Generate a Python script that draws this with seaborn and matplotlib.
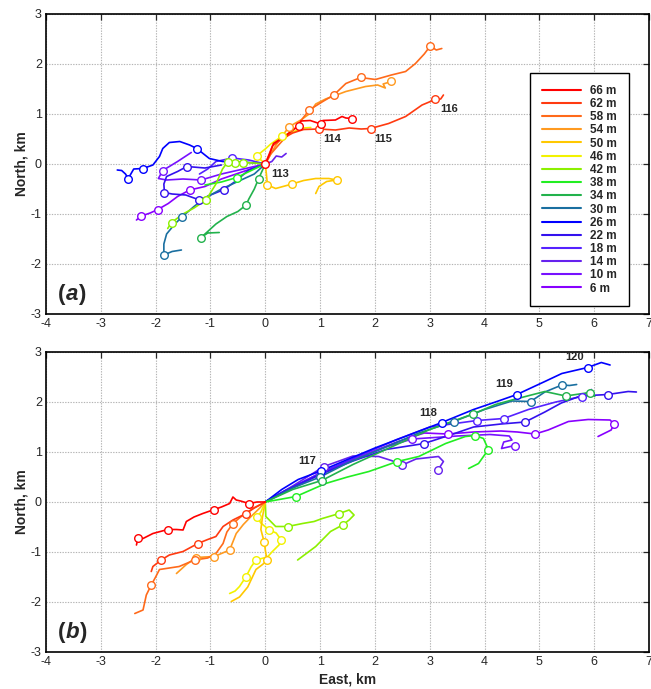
import matplotlib
matplotlib.use("Agg")
import matplotlib.pyplot as plt
from matplotlib.lines import Line2D
from matplotlib.offsetbox import TextArea, HPacker, AnchoredOffsetbox
import seaborn as sns
import pandas as pd

sns.set_style("white")
plt.rcParams["font.family"] = ["Liberation Sans", "DejaVu Sans"]
plt.rcParams["axes.unicode_minus"] = False

# Drifter depths (m) and their colours
depths = [66, 62, 58, 54, 50, 46, 42, 38, 34, 30, 26, 22, 18, 14, 10, 6]
depth_colors = ["#ff0000", "#ff3a10", "#ff6a1a", "#ff9a20", "#ffc800", "#f2f200",
                "#8cf000", "#22ee22", "#22b24c", "#1a6fa0", "#0000ff", "#3311ee",
                "#5522ff", "#6622ee", "#7711ff", "#8800ff"]

# Progressive vector tracks: (east km, north km, daily mark flag)
# Panel (a): days 113-116
a66 = [(0, 0, 1), (0.08, 0.2, 0), (0.15, 0.41, 0), (0.35, 0.55, 0), (0.5, 0.68, 0), (0.62, 0.77, 1),
       (0.65, 0.86, 0), (0.82, 0.87, 0), (1.01, 0.80, 1), (1.05, 0.87, 0), (1.28, 0.88, 0),
       (1.4, 0.95, 0), (1.47, 0.92, 0), (1.58, 0.91, 1)]
a62 = [(0, 0, 0), (0.13, 0.36, 0), (0.3, 0.5, 0), (0.5, 0.62, 0), (0.7, 0.69, 0), (0.98, 0.70, 1),
       (1.28, 0.68, 0), (1.53, 0.72, 0), (1.75, 0.70, 0), (1.92, 0.71, 1), (2.25, 0.81, 0),
       (2.56, 0.95, 0), (2.86, 1.18, 0), (3.1, 1.29, 1), (3.2, 1.30, 0), (3.25, 1.38, 0)]
a58 = [(0, 0, 0), (0.1, 0.2, 0), (0.3, 0.45, 0), (0.55, 0.72, 0), (0.8, 1.08, 1), (1.05, 1.25, 0),
       (1.25, 1.38, 1), (1.47, 1.61, 0), (1.74, 1.73, 1), (2.01, 1.69, 0), (2.3, 1.78, 0),
       (2.56, 1.85, 0), (2.74, 2.01, 0), (2.9, 2.2, 0), (3.01, 2.36, 1), (3.12, 2.28, 0), (3.22, 2.31, 0)]
a54 = [(0, 0, 0), (0.15, 0.3, 0), (0.3, 0.55, 0), (0.44, 0.75, 1), (0.65, 0.88, 0), (0.8, 1.0, 0),
       (0.92, 1.2, 0), (1.1, 1.3, 0), (1.47, 1.45, 0), (1.83, 1.55, 0), (2.05, 1.58, 0),
       (2.19, 1.52, 0), (2.15, 1.6, 0), (2.3, 1.65, 1)]
a50 = [(0, 0, 0), (0.02, -0.2, 0), (0.04, -0.42, 1), (0.19, -0.49, 0), (0.49, -0.40, 1), (0.7, -0.33, 0),
       (0.92, -0.29, 0), (1.16, -0.29, 0), (1.3, -0.32, 1), (1.12, -0.35, 0), (0.98, -0.45, 0),
       (0.92, -0.59, 0)]
a46 = [(0, 0, 0), (-0.1, 0.1, 0), (-0.16, 0.16, 1), (0.0, 0.3, 0), (0.1, 0.4, 0), (0.31, 0.56, 1),
       (0.5, 0.64, 0), (0.7, 0.72, 0), (0.83, 0.73, 0)]
a42 = [(0, 0, 0), (-0.2, 0.02, 0), (-0.41, 0.03, 1), (-0.56, 0.03, 1), (-0.68, 0.05, 1), (-0.78, -0.1, 0),
       (-0.9, -0.4, 0), (-1.08, -0.72, 1), (-1.3, -0.88, 0), (-1.5, -1.0, 0), (-1.71, -1.17, 1),
       (-1.78, -1.29, 0)]
a38 = [(0, 0, 0), (-0.2, -0.1, 0), (-0.52, -0.27, 1), (-0.8, -0.36, 0), (-1.1, -0.42, 0)]
a34 = [(0, 0, 0), (-0.12, -0.29, 1), (-0.2, -0.5, 0), (-0.3, -0.7, 0), (-0.35, -0.82, 1), (-0.5, -0.95, 0),
       (-0.7, -1.05, 0), (-0.9, -1.2, 0), (-1.05, -1.35, 0), (-1.17, -1.47, 1), (-1.05, -1.38, 0),
       (-0.84, -1.37, 0)]
a30 = [(0, 0, 0), (-0.2, -0.2, 0), (-0.5, -0.35, 0), (-0.8, -0.5, 0), (-1.1, -0.68, 0), (-1.3, -0.85, 0),
       (-1.51, -1.05, 1), (-1.65, -1.2, 0), (-1.8, -1.4, 0), (-1.85, -1.6, 0), (-1.85, -1.82, 1),
       (-1.7, -1.75, 0), (-1.53, -1.72, 0)]
a26 = [(0, 0, 0), (-0.3, 0.03, 0), (-0.78, 0.05, 0), (-1.02, 0.11, 0), (-1.25, 0.31, 1), (-1.38, 0.38, 0),
       (-1.56, 0.45, 0), (-1.75, 0.43, 0), (-1.87, 0.31, 0), (-1.93, 0.15, 0), (-2.05, -0.02, 0),
       (-2.23, -0.09, 1), (-2.4, -0.1, 0), (-2.5, -0.29, 1), (-2.55, -0.2, 0), (-2.62, -0.13, 0),
       (-2.7, -0.12, 0)]
a22 = [(0, 0, 0), (-0.3, -0.12, 0), (-0.55, -0.35, 0), (-0.75, -0.51, 1), (-1.0, -0.62, 0), (-1.2, -0.72, 1),
       (-1.45, -0.62, 0), (-1.7, -0.6, 0), (-1.84, -0.57, 1), (-1.85, -0.4, 0), (-1.8, -0.25, 0),
       (-1.6, -0.15, 0), (-1.43, -0.05, 1), (-1.1, -0.08, 0), (-0.8, -0.02, 0)]
a18 = [(0, 0, 0), (-0.3, 0.08, 0), (-0.6, 0.12, 1), (-0.9, 0.05, 0), (-1.05, -0.1, 0), (-1.2, -0.2, 0)]
a14 = [(0, 0, 0), (0.12, 0.05, 0), (0.2, 0.16, 0), (0.3, 0.14, 0), (0.38, 0.21, 0)]
a10 = [(0, 0, 0), (-0.4, -0.1, 0), (-0.8, -0.2, 0), (-1.17, -0.32, 1), (-1.5, -0.3, 0), (-1.8, -0.32, 0),
       (-1.95, -0.29, 0), (-1.87, -0.13, 1), (-1.6, 0.05, 0), (-1.35, 0.23, 0)]
a6 = [(0, 0, 0), (-0.4, -0.15, 0), (-0.8, -0.3, 0), (-1.1, -0.45, 0), (-1.38, -0.52, 1), (-1.6, -0.65, 0),
      (-1.77, -0.79, 0), (-1.96, -0.91, 1), (-2.1, -0.98, 0), (-2.26, -1.04, 1), (-2.35, -1.12, 0)]

# Panel (b): days 117-120
b66 = [(0, 0, 0), (-0.15, 0.0, 0), (-0.30, -0.03, 1), (-0.45, 0.02, 0), (-0.53, 0.04, 0), (-0.59, 0.1, 0),
       (-0.65, -0.03, 0), (-0.8, -0.1, 0), (-0.93, -0.15, 1), (-1.14, -0.23, 0), (-1.3, -0.3, 0),
       (-1.44, -0.39, 0), (-1.5, -0.56, 0), (-1.62, -0.55, 0), (-1.78, -0.55, 1), (-2.05, -0.63, 0),
       (-2.23, -0.73, 0), (-2.32, -0.71, 1), (-2.35, -0.86, 0)]
b62 = [(0, 0, 0), (-0.2, -0.12, 0), (-0.35, -0.23, 1), (-0.59, -0.36, 0), (-0.77, -0.49, 0), (-0.9, -0.69, 0),
       (-1.05, -0.75, 0), (-1.23, -0.83, 1), (-1.5, -0.99, 0), (-1.75, -1.06, 0), (-1.9, -1.16, 1),
       (-2.05, -1.29, 0), (-2.08, -1.39, 0)]
b58 = [(0, 0, 0), (-0.23, -0.13, 0), (-0.45, -0.3, 0), (-0.59, -0.43, 1), (-0.7, -0.6, 0), (-0.77, -0.83, 0),
       (-0.9, -1.03, 0), (-1.05, -1.12, 0), (-1.29, -1.16, 1), (-1.57, -1.29, 0), (-1.93, -1.35, 0),
       (-2.0, -1.5, 0), (-2.08, -1.66, 1), (-2.17, -1.86, 0), (-2.23, -2.16, 0), (-2.38, -2.23, 0)]
b54 = [(0, 0, 0), (-0.1, -0.12, 0), (-0.26, -0.29, 0), (-0.4, -0.45, 0), (-0.53, -0.63, 0), (-0.65, -0.96, 1),
       (-0.93, -1.09, 1), (-1.1, -1.1, 0), (-1.26, -1.11, 1), (-1.44, -1.25, 0), (-1.62, -1.43, 0)]
b50 = [(0, 0, 0), (-0.05, -0.29, 0), (-0.08, -0.55, 0), (-0.02, -0.8, 1), (0.01, -1.03, 0), (0.04, -1.16, 1),
       (-0.05, -1.25, 0), (-0.17, -1.35, 0), (-0.23, -1.49, 0), (-0.32, -1.7, 0), (-0.47, -1.9, 0),
       (-0.62, -1.99, 0)]
b46 = [(0, 0, 0), (-0.08, -0.2, 0), (-0.15, -0.3, 1), (-0.08, -0.42, 0), (0.07, -0.56, 1), (0.2, -0.62, 0),
       (0.29, -0.76, 1), (0.25, -0.86, 0), (0.13, -0.99, 0), (0.04, -1.1, 0), (-0.17, -1.16, 1),
       (-0.26, -1.3, 0), (-0.35, -1.49, 1), (-0.47, -1.69, 0), (-0.55, -1.78, 0), (-0.65, -1.83, 0)]
b42 = [(0, 0, 0), (0.01, -0.29, 0), (0.19, -0.49, 0), (0.41, -0.49, 1), (0.68, -0.43, 0), (0.89, -0.39, 0),
       (1.04, -0.33, 0), (1.35, -0.23, 1), (1.53, -0.16, 0), (1.62, -0.26, 0), (1.53, -0.36, 0),
       (1.41, -0.46, 1), (1.19, -0.59, 0), (0.92, -0.89, 0), (0.59, -1.16, 0)]
b38 = [(0, 0, 0), (0.56, 0.11, 1), (1.10, 0.37, 0), (1.5, 0.5, 0), (1.89, 0.61, 0), (2.41, 0.81, 1),
       (2.8, 0.91, 0), (3.29, 1.17, 0), (3.65, 1.31, 0), (3.83, 1.33, 1), (3.98, 1.27, 0), (4.07, 1.05, 1),
       (3.89, 0.77, 0), (3.71, 0.67, 0)]
b34 = [(0, 0, 0), (0.5, 0.25, 0), (1.03, 0.43, 1), (1.6, 0.75, 0), (2.3, 1.1, 0), (3.0, 1.45, 0),
       (3.79, 1.76, 1), (4.2, 1.95, 0), (4.5, 2.04, 0), (5.1, 2.21, 0), (5.48, 2.12, 1), (5.92, 2.19, 1),
       (6.01, 2.11, 0)]
b30 = [(0, 0, 0), (0.5, 0.28, 0), (1.0, 0.5, 1), (1.5, 0.78, 0), (2.2, 1.1, 0), (2.8, 1.38, 0),
       (3.44, 1.61, 1), (4.0, 1.85, 0), (4.5, 2.02, 0), (4.84, 2.01, 1), (5.1, 2.2, 0), (5.41, 2.34, 1),
       (5.55, 2.33, 0), (5.68, 2.35, 0)]
b26 = [(0, 0, 0), (0.3, 0.25, 0), (0.6, 0.45, 0), (1.01, 0.62, 1), (1.5, 0.85, 0), (2.0, 1.08, 0),
       (2.6, 1.33, 0), (3.22, 1.59, 1), (3.8, 1.85, 0), (4.2, 2.0, 0), (4.59, 2.15, 1), (5.1, 2.41, 0),
       (5.41, 2.57, 0), (5.88, 2.69, 1), (6.13, 2.79, 0), (6.29, 2.74, 0)]
b22 = [(0, 0, 0), (0.35, 0.22, 0), (1.0, 0.55, 0), (1.6, 0.82, 0), (2.2, 1.05, 0), (2.9, 1.17, 1),
       (3.4, 1.35, 0), (3.8, 1.5, 0), (4.3, 1.56, 0), (4.74, 1.6, 1), (5.1, 1.8, 0), (5.4, 1.98, 0),
       (5.75, 2.12, 0), (6.25, 2.15, 1), (6.62, 2.21, 0), (6.77, 2.2, 0)]
b18 = [(0, 0, 0), (0.5, 0.3, 0), (1.05, 0.6, 0), (1.7, 0.92, 0), (2.4, 1.25, 0), (3.0, 1.5, 0),
       (3.86, 1.63, 1), (4.35, 1.67, 1), (4.8, 1.85, 0), (5.3, 2.0, 0), (5.77, 2.11, 1), (5.95, 2.25, 0)]
b14 = [(0, 0, 0), (0.5, 0.32, 0), (1.07, 0.71, 1), (1.6, 0.92, 0), (2.07, 0.91, 0), (2.3, 0.83, 0),
       (2.5, 0.74, 1), (2.75, 0.86, 0), (3.16, 0.91, 0), (3.25, 0.81, 0), (3.15, 0.64, 1)]
b10 = [(0, 0, 0), (0.5, 0.28, 0), (1.0, 0.55, 1), (1.6, 0.85, 0), (2.2, 1.1, 0), (2.68, 1.26, 1),
       (3.5, 1.32, 0), (4.1, 1.35, 0), (4.45, 1.32, 0), (4.5, 1.24, 0), (4.35, 1.2, 0), (4.31, 1.07, 0),
       (4.55, 1.13, 1)]
b6 = [(0, 0, 0), (0.5, 0.3, 0), (1.0, 0.58, 0), (1.7, 0.9, 0), (2.4, 1.2, 0), (2.9, 1.38, 0),
      (3.33, 1.36, 1), (3.8, 1.4, 0), (4.3, 1.42, 0), (4.6, 1.4, 0), (4.92, 1.36, 1), (5.16, 1.44, 0),
      (5.53, 1.61, 0), (5.89, 1.65, 0), (6.29, 1.64, 0), (6.36, 1.56, 1), (6.31, 1.44, 0), (6.07, 1.31, 0)]

tracks_a = [a66, a62, a58, a54, a50, a46, a42, a38, a34, a30, a26, a22, a18, a14, a10, a6]
tracks_b = [b66, b62, b58, b54, b50, b46, b42, b38, b34, b30, b26, b22, b18, b14, b10, b6]

# Day labels and where they sit
days_a = ["113", "114", "115", "116"]
days_a_pos = [(0.27, -0.2), (1.22, 0.49), (2.16, 0.51), (3.35, 1.09)]
days_b = ["117", "118", "119", "120"]
days_b_pos = [(0.77, 0.81), (2.98, 1.79), (4.35, 2.36), (5.64, 2.89)]

W, H = 651, 689
fig = plt.figure(figsize=(W / 100, H / 100), dpi=100)
ax_a = fig.add_axes([46 / W, 1 - 314 / H, 603 / W, 300 / H])
ax_b = fig.add_axes([46 / W, 1 - 652 / H, 603 / W, 300 / H])


def draw_panel(ax, tracks, day_labels, day_pos, tag):
    # deepest first so the shallow (blue/violet) tracks sit underneath the red ones
    for i in range(len(tracks) - 1, -1, -1):
        df = pd.DataFrame(tracks[i], columns=["east", "north", "mark"])
        col = depth_colors[i]
        sns.lineplot(data=df, x="east", y="north", sort=False, estimator=None,
                     color=col, lw=1.2, ax=ax, zorder=3)
        marks = df[df["mark"] == 1]
        sns.scatterplot(data=marks, x="east", y="north", marker="o", s=30,
                        color="white", edgecolor=col, linewidth=1.0, ax=ax, zorder=4)
    for lab, (x, y) in zip(day_labels, day_pos):
        ax.text(x, y, lab, fontsize=8, fontweight="bold", ha="center", va="center", zorder=6)

    ax.set_xlim(-4, 7)
    ax.set_ylim(-3, 3)
    ax.set_xticks(range(-4, 8))
    ax.set_yticks(range(-3, 4))
    ax.grid(True, color="#b4b4b4", ls=(0, (1.2, 1.2)), lw=0.8, zorder=0)
    ax.tick_params(direction="in", top=True, right=True, length=4, width=0.9,
                   labelsize=9, pad=3)
    for sp in ax.spines.values():
        sp.set_color("black")
        sp.set_linewidth(1.2)
    ax.set_ylabel("North, km", fontsize=10, fontweight="bold", labelpad=2)
    ax.set_xlabel("")

    pieces = [TextArea("(", textprops=dict(fontsize=16, fontweight="bold")),
              TextArea(tag, textprops=dict(fontsize=16, fontweight="bold", fontstyle="italic")),
              TextArea(")", textprops=dict(fontsize=16, fontweight="bold"))]
    box = HPacker(children=pieces, pad=0, sep=0, align="baseline")
    anc = AnchoredOffsetbox(loc="lower left", child=box, frameon=False,
                            bbox_to_anchor=(0.02, 0.03), bbox_transform=ax.transAxes,
                            borderpad=0, pad=0)
    ax.add_artist(anc)


draw_panel(ax_a, tracks_a, days_a, days_a_pos, "a")
draw_panel(ax_b, tracks_b, days_b, days_b_pos, "b")
ax_b.set_xlabel("East, km", fontsize=10, fontweight="bold", labelpad=3)

handles = [Line2D([0], [0], color=c, lw=1.5) for c in depth_colors]
labels = [f"{d} m" for d in depths]
leg = ax_a.legend(handles, labels, loc="upper left", bbox_to_anchor=(0.803, 0.803),
                  borderaxespad=0, frameon=True, fancybox=False, framealpha=1,
                  edgecolor="black", handlelength=3.3, handletextpad=0.8,
                  labelspacing=0.1, borderpad=1.0,
                  prop=dict(size=8.5, weight="bold"))
leg.get_frame().set_linewidth(1.0)
leg.set_zorder(10)

fig.savefig("out.png", dpi=100)
